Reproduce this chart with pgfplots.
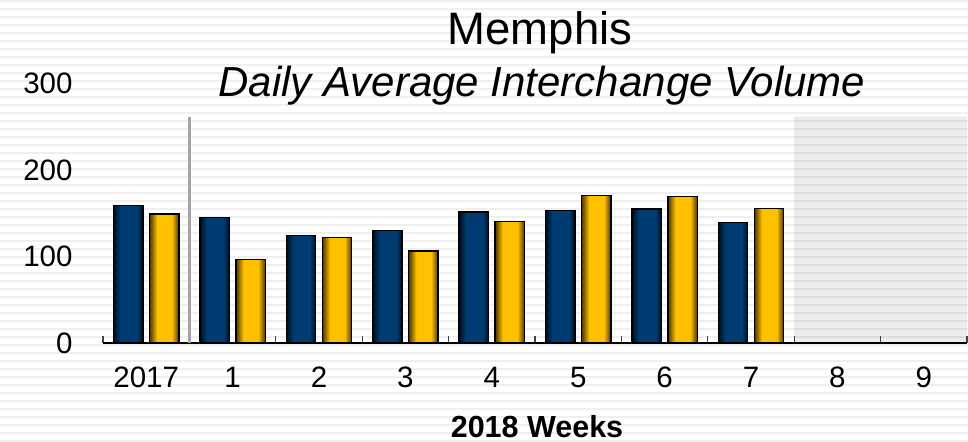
\documentclass[border=0pt]{standalone}
\usepackage{fontspec}
\setmainfont{Liberation Sans}
\usepackage{pgfplots}
\pgfplotsset{compat=1.18}
\definecolor{navymain}{HTML}{003C71}
\definecolor{navyedge}{HTML}{000E1C}
\definecolor{goldmain}{HTML}{FFC000}
\definecolor{goldedge}{HTML}{4A3500}
\definecolor{stripe}{HTML}{EFEFEF}
\definecolor{sepgray}{HTML}{A3A4A8}
\definecolor{tickgray}{HTML}{444444}
\pgfdeclarehorizontalshading{navybar}{100bp}{color(0bp)=(navyedge); color(25bp)=(navyedge); color(37bp)=(navymain); color(65bp)=(navymain); color(75bp)=(navyedge); color(100bp)=(navyedge)}
\pgfdeclarehorizontalshading{goldbar}{100bp}{color(0bp)=(goldedge); color(25bp)=(goldedge); color(38bp)=(goldmain); color(63bp)=(goldmain); color(75bp)=(goldedge); color(100bp)=(goldedge)}
\pgfplotsset{
  navystyle/.style={ybar, bar width=29.5bp, bar shift=-18bp, draw=black, line width=1.4bp, shade, shading=navybar, shading angle=0},
  goldstyle/.style={ybar, bar width=29.5bp, bar shift=18bp, draw=black, line width=1.4bp, shade, shading=goldbar, shading angle=0},
}
% one \addplot per bar so that each bar gets its own shading
\newcommand{\navybar}[2]{\addplot[navystyle] coordinates {(#1,#2)};}
\newcommand{\goldbar}[2]{\addplot[goldstyle] coordinates {(#1,#2)};}
\begin{document}
\begin{tikzpicture}
\useasboundingbox (0,0) rectangle (968bp,442bp);
\fill[white] (0,0) rectangle (968bp,442bp);
\foreach \k in {0,...,55} {
  \fill[stripe] (0bp,{(442-8*\k)*1bp}) rectangle (968bp,{(442-8*\k-2)*1bp});
}
\begin{axis}[
  at={(103bp,99bp)}, anchor=south west,
  scale only axis, width=864bp, height=259.2bp,
  xmin=-0.5, xmax=9.5, ymin=0, ymax=300,
  axis lines*=left,
  y axis line style={draw=none},
  x axis line style={-, black, line width=2bp},
  xtick={0,...,9},
  xticklabels={2017,1,2,3,4,5,6,7,8,9},
  minor xtick={-0.5,0.5,...,9.5},
  major x tick style={draw=none},
  minor x tick style={tickgray, line width=1.3bp},
  minor tick length=7bp,
  tick align=inside,
  ytick={0,100,200,300},
  ytick style={draw=none},
  /pgf/number format/assume math mode=true,
  tick label style={font=\fontsize{29.5bp}{30bp}\selectfont, inner sep=0pt},
  xticklabel style={anchor=base, yshift=-44.3bp},
  yticklabel style={anchor=east, xshift=-30.3bp},
  xlabel={\textbf{2018 Weeks}},
  xlabel style={at={(axis description cs:0.5,0)}, anchor=base, yshift=-94bp, xshift=2bp, font=\fontsize{30.5bp}{31bp}\selectfont, inner sep=0pt},
  clip=false,
]
\addplot[draw=none, fill=black, fill opacity=0.075, forget plot] coordinates {(7.5,0) (7.5,262) (9.5,262) (9.5,0)} \closedcycle;
\addplot[sepgray, line width=3bp, forget plot] coordinates {(0.5,0) (0.5,262)};
% navy series
\navybar{0}{158.9}
\navybar{1}{145.5}
\navybar{2}{124.2}
\navybar{3}{130.0}
\navybar{4}{151.6}
\navybar{5}{153.1}
\navybar{6}{155.1}
\navybar{7}{139.7}
% gold series
\goldbar{0}{149.3}
\goldbar{1}{96.4}
\goldbar{2}{122.3}
\goldbar{3}{106.5}
\goldbar{4}{140.4}
\goldbar{5}{170.5}
\goldbar{6}{169.8}
\goldbar{7}{155.4}
\end{axis}
\node[anchor=base, inner sep=0pt, font=\fontsize{45.5bp}{46bp}\selectfont] at (540bp,397bp) {Memphis};
\node[anchor=base, inner sep=0pt, font=\fontsize{42bp}{43bp}\selectfont\itshape] at (542bp,345.3bp) {Daily Average Interchange Volume};
\end{tikzpicture}
\end{document}
